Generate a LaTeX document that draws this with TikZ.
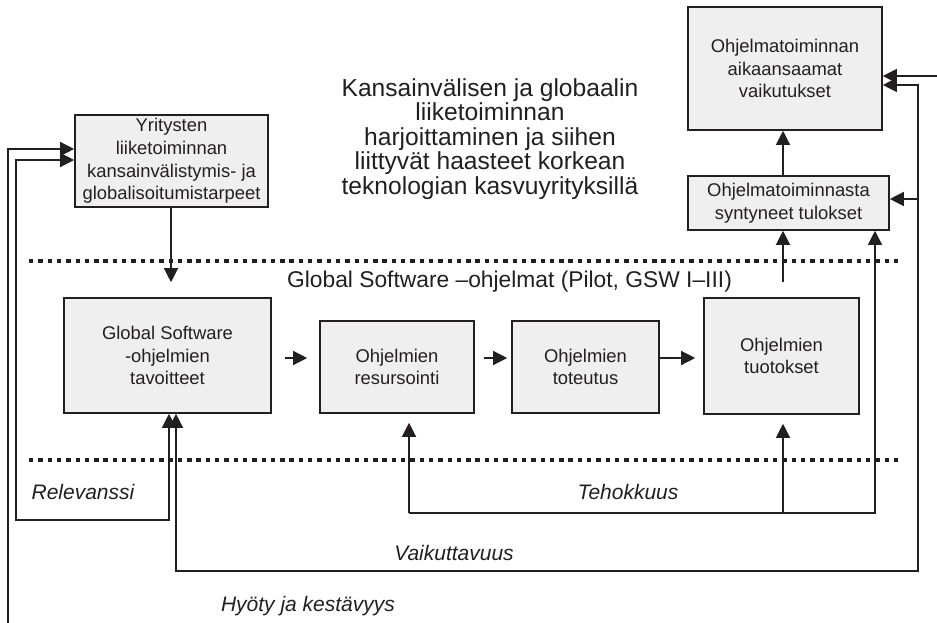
\documentclass[tikz,border=0pt]{standalone}
\usepackage{fontspec}
\setmainfont{Liberation Sans}
\usetikzlibrary{arrows.meta}
\definecolor{boxfill}{RGB}{238,239,238}
\definecolor{ink}{RGB}{35,31,32}
\begin{document}
\begin{tikzpicture}[x=1pt,y=-1pt,
  box/.style={draw=ink,line width=1.6pt,fill=boxfill,text=ink,align=center,inner sep=0pt,
    font=\fontsize{18.4pt}{22.6pt}\selectfont},
  lab/.style={text=ink,inner sep=0pt,font=\fontsize{21pt}{24pt}\selectfont\itshape},
  arr/.style={draw=ink,line width=1.3pt,-{Triangle[length=14pt,width=14pt]}},
  both/.style={draw=ink,line width=1.3pt,{Triangle[length=14pt,width=14pt]}-{Triangle[length=14pt,width=14pt]}},
  divider/.style={draw=ink,line width=4.3pt,dash pattern=on 4.4pt off 4.9pt}]
\useasboundingbox (0,0) rectangle (937,623);
% boxes
\node[box,minimum width=193pt,minimum height=92pt] (yr) at (171.5,161) {Yritysten\\liiketoiminnan\\kansainvälistymis- ja\\globalisoitumistarpeet};
\node[box,minimum width=194pt,minimum height=123pt] (vk) at (785,68.5) {Ohjelmatoiminnan\\aikaansaamat\\vaikutukset};
\node[box,minimum width=201pt,minimum height=54pt] (tu) at (788.5,203) {Ohjelmatoiminnasta\\syntyneet tulokset};
\node[box,minimum width=207pt,minimum height=115pt] (tav) at (167.5,355.5) {Global Software\\-ohjelmien\\tavoitteet};
\node[box,minimum width=154pt,minimum height=92pt] (res) at (397,367) {Ohjelmien\\resursointi};
\node[box,minimum width=147pt,minimum height=92pt] (tot) at (585.5,367) {Ohjelmien\\toteutus};
\node[box,minimum width=155pt,minimum height=116pt] (tuo) at (781.5,356) {Ohjelmien\\tuotokset};
% texts
\node[text=ink,align=center,inner sep=0pt,font=\fontsize{24.6pt}{24.6pt}\selectfont] (title) at (490,139)
  {Kansainvälisen ja globaalin\\liiketoiminnan\\harjoittaminen ja siihen\\liittyvät haasteet korkean\\teknologian kasvuyrityksillä};
\node[text=ink,inner sep=0pt,font=\fontsize{22.8pt}{24pt}\selectfont] (gsw) at (509.5,282) {Global Software –ohjelmat (Pilot, GSW I–III)};
\node[lab] (relev) at (83,492) {Relevanssi};
\node[lab] (tehok) at (628,492) {Tehokkuus};
\node[lab] (vaik) at (454,553) {Vaikuttavuus};
\node[lab] (hyoty) at (308,606) {Hyöty ja kestävyys};
% dotted borders
\draw[divider] (29,261) -- (900,261);
\draw[divider] (29,460) -- (900,460);
% corners of the loops
\coordinate (hyL) at (8,623);
\coordinate (hyR) at (937,76);
\coordinate (reC) at (16,520);
\coordinate (teL) at (409,513);
\coordinate (teR) at (875,513);
\coordinate (vaC) at (918,571);
% main flow
\draw[arr,shorten >=15pt] (yr.south -| 171,0) -- (tav.north -| 171,0);
\foreach \u/\v/\a/\b in {tav/res/13/12,res/tot/9/4,tot/tuo/0/8}
  \draw[arr,shorten <=\a pt,shorten >=\b pt] (\u.east |- 0,358) -- (\v.west |- 0,358);
\draw[arr,shorten <=15pt] (tuo.north -| 783,0) -- (tu.south -| 783,0);
\draw[arr] (tu.north -| 783,0) -- (vk.south -| 783,0);
% feedback loops
\draw[both] (tav.south -| 169,0) |- (reC) |- (yr.west |- 0,160);
\draw[arr] (hyL) |- (yr.west |- 0,149);
\draw[arr] (hyR) -- (vk.east |- 0,76);
\draw[arr,shorten >=9pt] (teL) -- (res.south -| teL);
\draw[arr,shorten >=9pt] (783,513) -- (tuo.south -| 783,0);
\draw[arr] (teL) -- (teR) -- (tu.south -| teR);
\draw[both] (tav.south -| 176,0) |- (vaC) |- (vk.east |- 0,85);
\draw[arr] (vaC |- 0,199) -- (tu.east |- 0,199);
\end{tikzpicture}
\end{document}
